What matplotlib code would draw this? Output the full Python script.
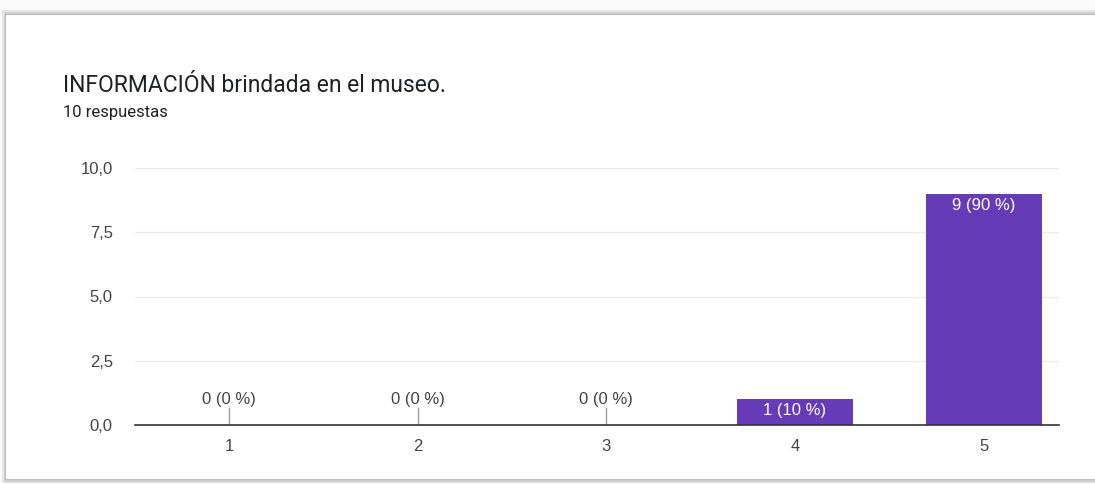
import matplotlib.pyplot as plt
from matplotlib.patches import Rectangle

plt.rcParams['font.family'] = ['Roboto', 'DejaVu Sans']
chart_font = ['Liberation Sans', 'DejaVu Sans']

categories = ['1', '2', '3', '4', '5']
counts = [0, 0, 0, 1, 9]
total = 10
yticks = [0, 2.5, 5.0, 7.5, 10.0]

W, H = 1095, 484
fig = plt.figure(figsize=(W / 100, H / 100), dpi=100)
fig.patch.set_facecolor('#fafafa')

# card with a soft shadow, kept behind the axes
for off, col in [(3, '#e6e6e6'), (1.5, '#d0d0d0')]:
    fig.patches.append(Rectangle(((5 - off) / W, (H - 480 - off) / H), (W + 20) / W, (480 - 13 + 2 * off) / H,
                                 transform=fig.transFigure, facecolor=col, edgecolor='none', zorder=-2))
fig.patches.append(Rectangle((5 / W, (H - 479) / H), (W + 20) / W, (479 - 14) / H,
                             transform=fig.transFigure, facecolor='white', edgecolor='#bdbdbd',
                             linewidth=0.8, zorder=-1))

fig.text(63 / W, 1 - 85 / H, 'INFORMACIÓN brindada en el museo.', fontsize=16.5, color='#202124', va='center')
fig.text(63 / W, 1 - 113 / H, '10 respuestas', fontsize=12, color='#202124', va='center')

ax = fig.add_axes([135 / W, 1 - 425 / H, (1059 - 135) / W, (425 - 168) / H])
ax.set_facecolor('none')
x = list(range(1, len(categories) + 1))
ax.bar(x, counts, width=0.615, color='#673ab7', zorder=3)
ax.set_xlim(0.5, 5.4)
ax.set_ylim(0, 10)
ax.set_yticks(yticks)
ax.set_yticklabels([f'{v:.1f}'.replace('.', ',') for v in yticks], family=chart_font)
ax.set_xticks(x)
ax.set_xticklabels(categories, family=chart_font)
ax.tick_params(length=0, labelsize=12, labelcolor='#444444', pad=16)
ax.tick_params(axis='x', pad=10)
ax.grid(axis='y', color='#ebebeb', linewidth=1, zorder=0)
for s in ['top', 'right', 'left']:
    ax.spines[s].set_visible(False)
ax.spines['bottom'].set_color('#333333')
ax.spines['bottom'].set_linewidth(1.2)
ax.spines['bottom'].set_zorder(4)

for xi, c in zip(x, counts):
    label = f'{c} ({round(100 * c / total)} %)'
    if c == 0:
        ax.plot([xi, xi], [0, 0.65], color='#999999', linewidth=1, zorder=4)
        ax.text(xi, 1.0, label, ha='center', va='center', fontsize=12, color='#444444', family=chart_font)
    else:
        ax.text(xi, c - 0.45, label, ha='center', va='center', fontsize=12, color='white', zorder=5,
                family=chart_font)

fig.savefig('out.png', dpi=100)
